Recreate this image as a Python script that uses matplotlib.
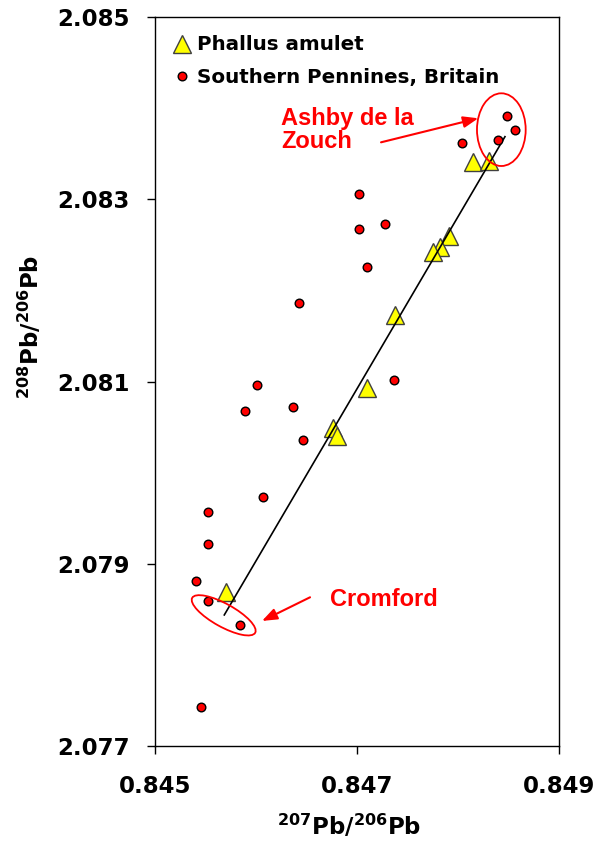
import matplotlib
matplotlib.use("Agg")
import matplotlib.pyplot as plt
from matplotlib.patches import Ellipse
from matplotlib.transforms import ScaledTranslation
from matplotlib.ticker import FixedLocator, FormatStrFormatter

# ---- data ----
amulet_x = [0.848146, 0.848307, 0.847914, 0.847820, 0.847750, 0.847376,
            0.847102, 0.846765, 0.846805, 0.845700]
amulet_y = [2.083411, 2.083424, 2.082596, 2.082477, 2.082417, 2.081727,
            2.080929, 2.080489, 2.080404, 2.078691]

penn_x = [0.848482, 0.848561, 0.848396, 0.848037, 0.847023, 0.847023,
          0.847277, 0.847096, 0.846426, 0.847363, 0.846007, 0.845888,
          0.846363, 0.846468, 0.846066, 0.845528, 0.845528, 0.845409,
          0.845528, 0.845842, 0.845452]
penn_y = [2.083919, 2.083766, 2.083652, 2.083623, 2.083059, 2.082678,
          2.082727, 2.082258, 2.081865, 2.081020, 2.080958, 2.080673,
          2.080723, 2.080357, 2.079735, 2.079563, 2.079215, 2.078809,
          2.078586, 2.078322, 2.077425]

fit_x = [0.845686, 0.848465]
fit_y = [2.078436, 2.083689]

x_ticks = [0.845, 0.847, 0.849]
y_ticks = [2.077, 2.079, 2.081, 2.083, 2.085]

labels = ["Phallus amulet", "Southern Pennines, Britain"]

# ---- figure ----
fig = plt.figure(figsize=(5.99, 8.47), dpi=100)
ax = fig.add_axes([155/599, 1 - 745.7/847, 404/599, 728.4/847])

ax.plot(amulet_x, amulet_y, linestyle="none", marker="^", markersize=12.5,
        markerfacecolor="#FFFF00", markeredgecolor="#404040",
        markeredgewidth=1.0, zorder=3, label=labels[0])
ax.plot(fit_x, fit_y, color="black", lw=1.2, zorder=4)
ax.plot(penn_x, penn_y, linestyle="none", marker="o", markersize=6.2,
        markerfacecolor="#FF0000", markeredgecolor="black",
        markeredgewidth=1.0, zorder=5, label=labels[1])

ax.set_xlim(0.845, 0.849)
ax.set_ylim(2.077, 2.085)
ax.xaxis.set_major_locator(FixedLocator(x_ticks))
ax.yaxis.set_major_locator(FixedLocator(y_ticks))
ax.xaxis.set_major_formatter(FormatStrFormatter("%.3f"))
ax.yaxis.set_major_formatter(FormatStrFormatter("%.3f"))
ax.tick_params(axis="both", direction="out", length=6, width=1.0,
               labelsize=16.5, colors="black")
ax.tick_params(axis="x", pad=15)
ax.tick_params(axis="y", pad=12)
for lab in ax.get_xticklabels() + ax.get_yticklabels():
    lab.set_fontweight("bold")
    lab.set_family("DejaVu Sans")
for sp in ax.spines.values():
    sp.set_linewidth(1.0)
    sp.set_color("black")

ax.set_xlabel(r"$^{\mathbf{207}}\mathbf{Pb/}^{\mathbf{206}}\mathbf{Pb}$", fontsize=16.5)
ax.set_ylabel(r"$^{\mathbf{208}}\mathbf{Pb/}^{\mathbf{206}}\mathbf{Pb}$", fontsize=16.5)
ax.xaxis.set_label_coords((349 - 155) / 404, (745.7 - 813) / 728.4)
ax.yaxis.set_label_coords((44 - 155) / 404, (745.7 - 327) / 728.4)

leg = ax.legend(loc="upper left", bbox_to_anchor=((171.8 - 155) / 404, (745.7 - 35.5) / 728.4),
                frameon=False, borderpad=0, borderaxespad=0, handlelength=1.0,
                handletextpad=0.25, labelspacing=0.68, numpoints=1,
                prop={"family": "DejaVu Sans", "weight": "bold", "size": 14.3})

# ---- annotations ----
red_font = dict(family="Liberation Sans", weight="bold", size=17, color="#FF0000")
ax.text(0.845 + (281 - 155) / 101000, 2.085 - (107 - 17.3) / 91050,
        "Ashby de la\nZouch", ha="left", va="top", linespacing=1.0, **red_font)
ax.text(0.845 + (330 - 155) / 101000, 2.085 - (588 - 17.3) / 91050,
        "Cromford", ha="left", va="top", **red_font)

arrow = dict(arrowstyle="-|>,head_length=0.45,head_width=0.17", color="#FF0000",
             lw=1.5, shrinkA=0, shrinkB=0, mutation_scale=20)
ax.annotate("", xy=(0.848201, 2.083891), xytext=(0.847238, 2.083627),
            arrowprops=arrow)
ax.annotate("", xy=(0.846059, 2.078370), xytext=(0.846535, 2.078630),
            arrowprops=arrow)

def px_ellipse(cx, cy, w_px, h_px, angle):
    tr = fig.dpi_scale_trans + ScaledTranslation(cx, cy, ax.transData)
    e = Ellipse((0, 0), w_px / 100, h_px / 100, angle=angle, transform=tr,
                fill=False, edgecolor="#FF0000", lw=1.3, clip_on=False, zorder=6)
    ax.add_artist(e)

px_ellipse(0.848429, 2.083766, 48.7, 72.7, 0)
px_ellipse(0.845680, 2.078432, 72, 23, -29)

fig.savefig("out.png", dpi=100)
